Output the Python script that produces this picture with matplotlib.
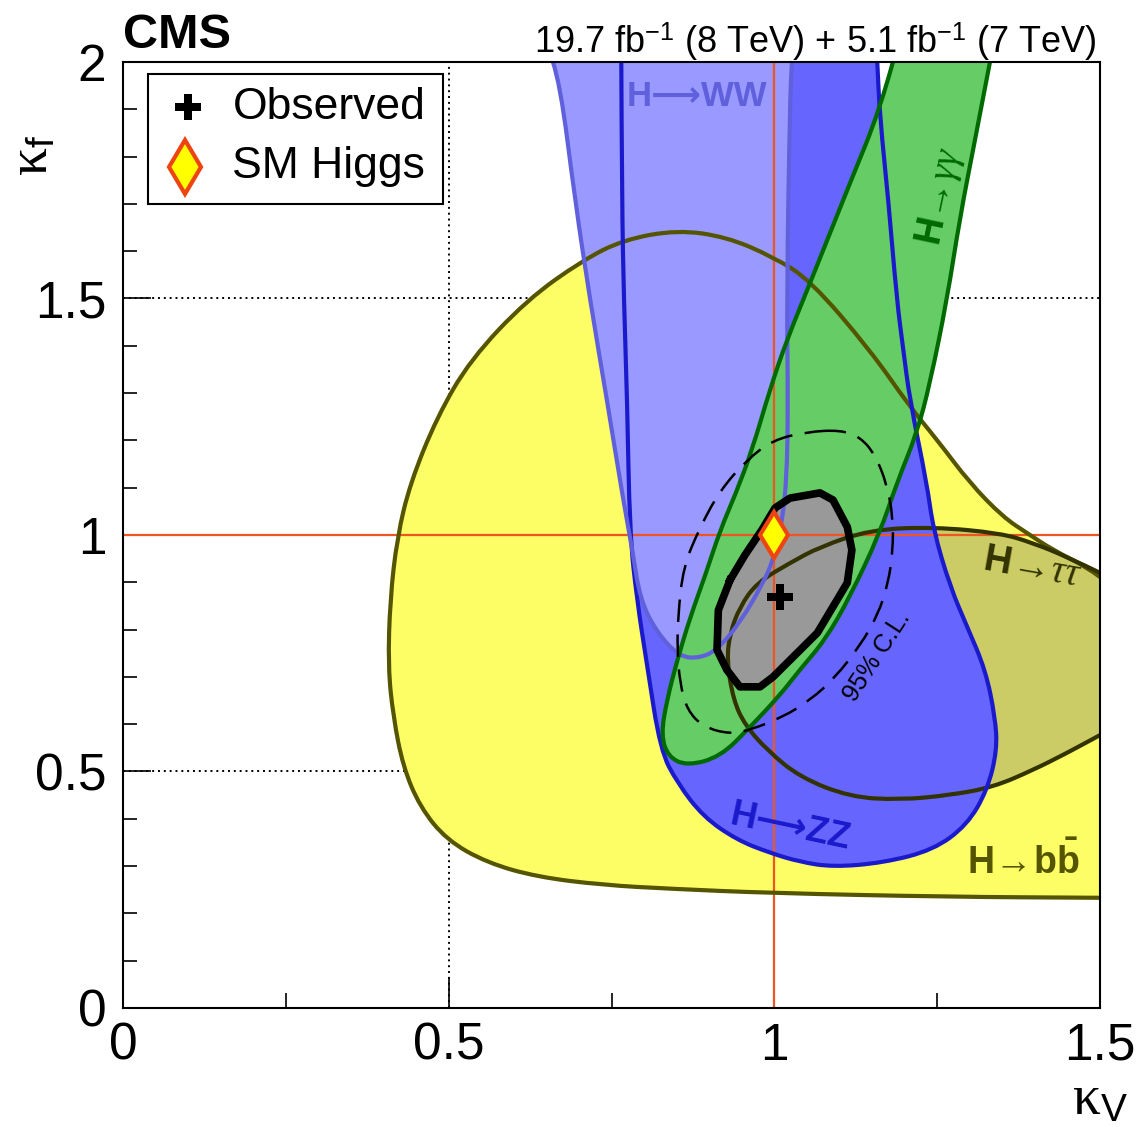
import numpy as np
import matplotlib
matplotlib.use('agg')
import matplotlib.pyplot as plt
from matplotlib.patches import PathPatch, Rectangle
from matplotlib.path import Path
from matplotlib.ticker import MultipleLocator

plt.rcParams['font.family'] = ['Liberation Sans', 'DejaVu Sans']
plt.rcParams['mathtext.fontset'] = 'custom'
plt.rcParams['mathtext.rm'] = 'Liberation Serif'
plt.rcParams['mathtext.it'] = 'Liberation Serif:italic'
plt.rcParams['mathtext.bf'] = 'Liberation Sans:bold'
plt.rcParams['mathtext.sf'] = 'Liberation Sans'

# 68% CL contours in the (kappa_V, kappa_f) plane
# H->bb (yellow)
bb_kv = [1.500, 1.480, 1.428, 1.388, 1.351, 1.300, 1.250, 1.208, 1.147, 1.055, 0.998, 0.927,
         0.851, 0.768, 0.706, 0.620, 0.533, 0.482, 0.441, 0.421, 0.410, 0.407, 0.415, 0.430,
         0.456, 0.497, 0.559, 0.636, 0.737, 0.840, 0.993, 1.265, 1.500]
bb_kf = [0.911, 0.932, 0.968, 1.004, 1.038, 1.110, 1.201, 1.271, 1.391, 1.539, 1.588, 1.630,
         1.645, 1.624, 1.581, 1.497, 1.370, 1.249, 1.110, 0.996, 0.863, 0.721, 0.615, 0.510,
         0.425, 0.355, 0.307, 0.277, 0.260, 0.252, 0.243, 0.235, 0.233]

# H->tautau (olive)
tt_kv = [1.500, 1.449, 1.397, 1.347, 1.244, 1.147, 1.070, 1.024, 0.973, 0.947, 0.932, 0.927,
         0.937, 0.955, 0.989, 1.039, 1.116, 1.193, 1.270, 1.336, 1.397, 1.449, 1.500]
tt_kf = [0.920, 0.954, 0.983, 1.004, 1.017, 1.011, 0.975, 0.941, 0.899, 0.848, 0.793, 0.736,
         0.651, 0.598, 0.545, 0.488, 0.446, 0.440, 0.450, 0.467, 0.503, 0.539, 0.577]

# H->ZZ (blue)
zz_kv = [0.765, 0.766, 0.769, 0.774, 0.778, 0.789, 0.805, 0.825, 0.851, 0.891, 0.943, 0.993,
         1.039, 1.090, 1.167, 1.244, 1.296, 1.327, 1.342, 1.339, 1.324, 1.296, 1.270, 1.244,
         1.234, 1.208, 1.198, 1.188, 1.175, 1.162, 1.158]
zz_kf = [2.000, 1.708, 1.497, 1.285, 1.004, 0.863, 0.721, 0.545, 0.476, 0.404, 0.355, 0.328,
         0.309, 0.298, 0.307, 0.334, 0.387, 0.461, 0.545, 0.615, 0.715, 0.806, 0.890, 1.011,
         1.110, 1.285, 1.391, 1.497, 1.708, 1.884, 2.000]

# H->WW (light blue)
ww_kv = [0.660, 0.671, 0.694, 0.717, 0.743, 0.768, 0.782, 0.794, 0.820, 0.855, 0.886, 0.912,
         0.947, 0.983, 0.998, 1.009, 1.019, 1.021, 1.019, 1.024, 1.027]
ww_kf = [2.000, 1.956, 1.708, 1.497, 1.285, 1.074, 0.968, 0.863, 0.793, 0.742, 0.740, 0.757,
         0.814, 0.899, 0.947, 1.004, 1.110, 1.285, 1.497, 1.920, 2.000]

# H->gamma gamma (green)
gg_kv = [1.182, 1.162, 1.116, 1.055, 1.019, 0.993, 0.966, 0.940, 0.917, 0.894, 0.871, 0.851,
         0.835, 0.826, 0.837, 0.866, 0.917, 0.963, 1.009, 1.039, 1.078, 1.116, 1.162, 1.188,
         1.219, 1.239, 1.265, 1.285, 1.308, 1.331]
gg_kf = [2.000, 1.899, 1.744, 1.533, 1.412, 1.307, 1.180, 1.085, 1.011, 0.915, 0.827, 0.736,
         0.651, 0.577, 0.531, 0.512, 0.531, 0.594, 0.662, 0.715, 0.778, 0.869, 1.004, 1.110,
         1.216, 1.321, 1.497, 1.672, 1.835, 2.000]

# combination, 68% CL (grey) and 95% CL (dashed)
comb_kv = [0.932, 0.955, 0.981, 1.001, 1.024, 1.070, 1.090, 1.112, 1.119, 1.112, 1.066, 0.998,
           0.978, 0.947, 0.927, 0.912, 0.914]
comb_kf = [0.905, 0.958, 1.011, 1.057, 1.078, 1.089, 1.074, 1.017, 0.968, 0.899, 0.793, 0.700,
           0.679, 0.679, 0.715, 0.757, 0.841]
c95_kv = [1.101, 1.132, 1.155, 1.173, 1.182, 1.182, 1.175, 1.159, 1.132, 1.093, 1.055, 1.013,
          0.963, 0.932, 0.891, 0.866, 0.855, 0.851, 0.852, 0.860, 0.886, 0.917, 0.958, 0.998, 1.050]
c95_kf = [1.222, 1.207, 1.169, 1.106, 1.038, 0.968, 0.899, 0.831, 0.767, 0.698, 0.651, 0.615,
          0.588, 0.579, 0.594, 0.630, 0.687, 0.757, 0.827, 0.932, 1.017, 1.095, 1.159, 1.201, 1.218]

best_fit = (1.009, 0.869)
sm_point = (1.0, 1.0)

orange = '#ee5522'


def smooth_path(x, y, closed=False, fill=False):
    """Quadratic bezier path through the midpoints, the read points act as control points."""
    pts = np.column_stack([x, y])
    n = len(pts)
    if closed:
        mids = (pts + np.roll(pts, -1, axis=0)) / 2
        verts = [mids[-1]]
        codes = [Path.MOVETO]
        for i in range(n):
            verts += [pts[i], mids[i]]
            codes += [Path.CURVE3, Path.CURVE3]
    else:
        verts = [pts[0]]
        codes = [Path.MOVETO]
        for i in range(1, n - 1):
            verts += [pts[i], (pts[i] + pts[i + 1]) / 2]
            codes += [Path.CURVE3, Path.CURVE3]
        verts.append(pts[-1])
        codes.append(Path.LINETO)
        if fill:
            verts.append(pts[0])
            codes.append(Path.CLOSEPOLY)
    return Path(np.array(verts), codes)


fig = plt.figure(figsize=(11.41, 11.27), dpi=100)
ax = fig.add_axes([0.1078, 0.1056, 0.8563, 0.8394])
ax.set_xlim(0, 1.5)
ax.set_ylim(0, 2)

# dotted grid lines below the contours
ax.axvline(0.5, color='black', ls=(0, (1, 2)), lw=1.4, zorder=0.5)
for yv in [0.5, 1.5]:
    ax.axhline(yv, color='black', ls=(0, (1, 2)), lw=1.4, zorder=0.5)

fills = [
    (bb_kv, bb_kf, '#fdfd66', '#555500'),
    (tt_kv, tt_kf, '#cccc66', '#333300'),
    (zz_kv, zz_kf, '#6666ff', '#1a1acc'),
    (ww_kv, ww_kf, '#9999ff', '#6060dd'),
    (gg_kv, gg_kf, '#66cc66', '#006a00'),
]
for kv, kf, fc, ec in fills:
    ax.add_patch(PathPatch(smooth_path(kv, kf, fill=True), fc=fc, ec='none', zorder=1))
ax.add_patch(PathPatch(Path(np.column_stack([comb_kv, comb_kf]), closed=False),
                       fc='#999999', ec='none', zorder=1.5))

ax.axvline(1.0, color=orange, lw=1.6, zorder=2)
ax.axhline(1.0, color=orange, lw=1.6, zorder=2)

for kv, kf, fc, ec in fills:
    ax.add_patch(PathPatch(smooth_path(kv, kf), fill=False, ec=ec, lw=3.0, zorder=3))

ax.add_patch(PathPatch(smooth_path(c95_kv, c95_kf, closed=True), fill=False, ec='black',
                       lw=1.8, ls=(0, (9, 5)), zorder=4))
ax.plot(comb_kv + comb_kv[:1], comb_kf + comb_kf[:1], color='black', lw=5.5, zorder=4,
        solid_joinstyle='round')

ax.plot(*best_fit, marker='P', color='black', ms=19, mew=0, zorder=6)
ax.plot(*sm_point, marker='d', mfc='#ffff00', mec='#ee4411', ms=23, mew=3, zorder=6)

# channel labels
ax.text(0.881, 1.928, 'H\u27f6WW', color='#6060dd', fontsize=25, fontweight='bold',
        ha='center', va='center', zorder=5)
ax.text(1.254, 1.715, r'$\mathbf{H}\!\rightarrow\!\gamma\gamma$', color='#006a00', fontsize=27,
        ha='center', va='center', rotation=78, zorder=5)
ax.text(1.396, 0.930, r'$\mathbf{H}\!\rightarrow\!\tau\tau$', color='#333300', fontsize=28,
        ha='center', va='center', rotation=-10, zorder=5)
ax.text(1.024, 0.381, 'H\u27f6ZZ', color='#1a1acc', fontsize=26, fontweight='bold',
        ha='center', va='center', rotation=-12, zorder=5)
ax.text(1.382, 0.309, r'$\mathbf{H}\!\rightarrow\!\mathbf{b\bar{b}}$', color='#555500',
        fontsize=27, ha='center', va='center', zorder=5)
ax.text(1.158, 0.744, '95% C.L.', color='black', fontsize=18, ha='center', va='center',
        rotation=57, zorder=5)

# legend box
ax.add_patch(Rectangle((0.0256, 0.850), 0.302, 0.137, transform=ax.transAxes,
                       fc='white', ec='black', lw=1.5, zorder=7))
ax.plot(0.0665, 0.952, marker='P', color='black', ms=19, mew=0, transform=ax.transAxes,
        zorder=8)
ax.plot(0.0635, 0.889, marker='d', mfc='#ffff00', mec='#ee4411', ms=27, mew=3,
        transform=ax.transAxes, zorder=8)
ax.text(0.112, 0.952, 'Observed', fontsize=32, va='center', transform=ax.transAxes, zorder=8)
ax.text(0.112, 0.889, 'SM Higgs', fontsize=32, va='center', transform=ax.transAxes, zorder=8)

# axes and ticks
ax.xaxis.set_major_locator(MultipleLocator(0.5))
ax.xaxis.set_minor_locator(MultipleLocator(0.25))
ax.yaxis.set_major_locator(MultipleLocator(0.5))
ax.yaxis.set_minor_locator(MultipleLocator(0.1))
ax.xaxis.set_major_formatter(plt.FuncFormatter(lambda v, p: '%g' % v))
ax.yaxis.set_major_formatter(plt.FuncFormatter(lambda v, p: '%g' % v))
ax.tick_params(which='both', direction='in', width=1.2, labelsize=37, top=False, right=False)
ax.tick_params(axis='x', which='major', length=22, pad=10)
ax.tick_params(axis='x', which='minor', length=11)
ax.tick_params(axis='y', which='major', length=20, pad=12)
ax.tick_params(axis='y', which='minor', length=10)
for sp in ax.spines.values():
    sp.set_linewidth(1.5)
    sp.set_zorder(9)

fig.text(0.989, 0.011, r'$\mathrm{\kappa}_{\mathsf{V}}$', fontsize=40, ha='right', va='baseline')
fig.text(0.006, 0.862, r'$\mathrm{\kappa}_{\mathsf{f}}$', fontsize=40, ha='left', va='center',
         rotation=90)

fig.text(0.108, 0.957, 'CMS', fontsize=35, fontweight='bold', ha='left', va='baseline')
fig.text(0.961, 0.953, r'19.7 fb$^{\mathsf{-1}}$ (8 TeV) + 5.1 fb$^{\mathsf{-1}}$ (7 TeV)',
         fontsize=26, ha='right', va='baseline')

fig.savefig('out.png', dpi=100)
